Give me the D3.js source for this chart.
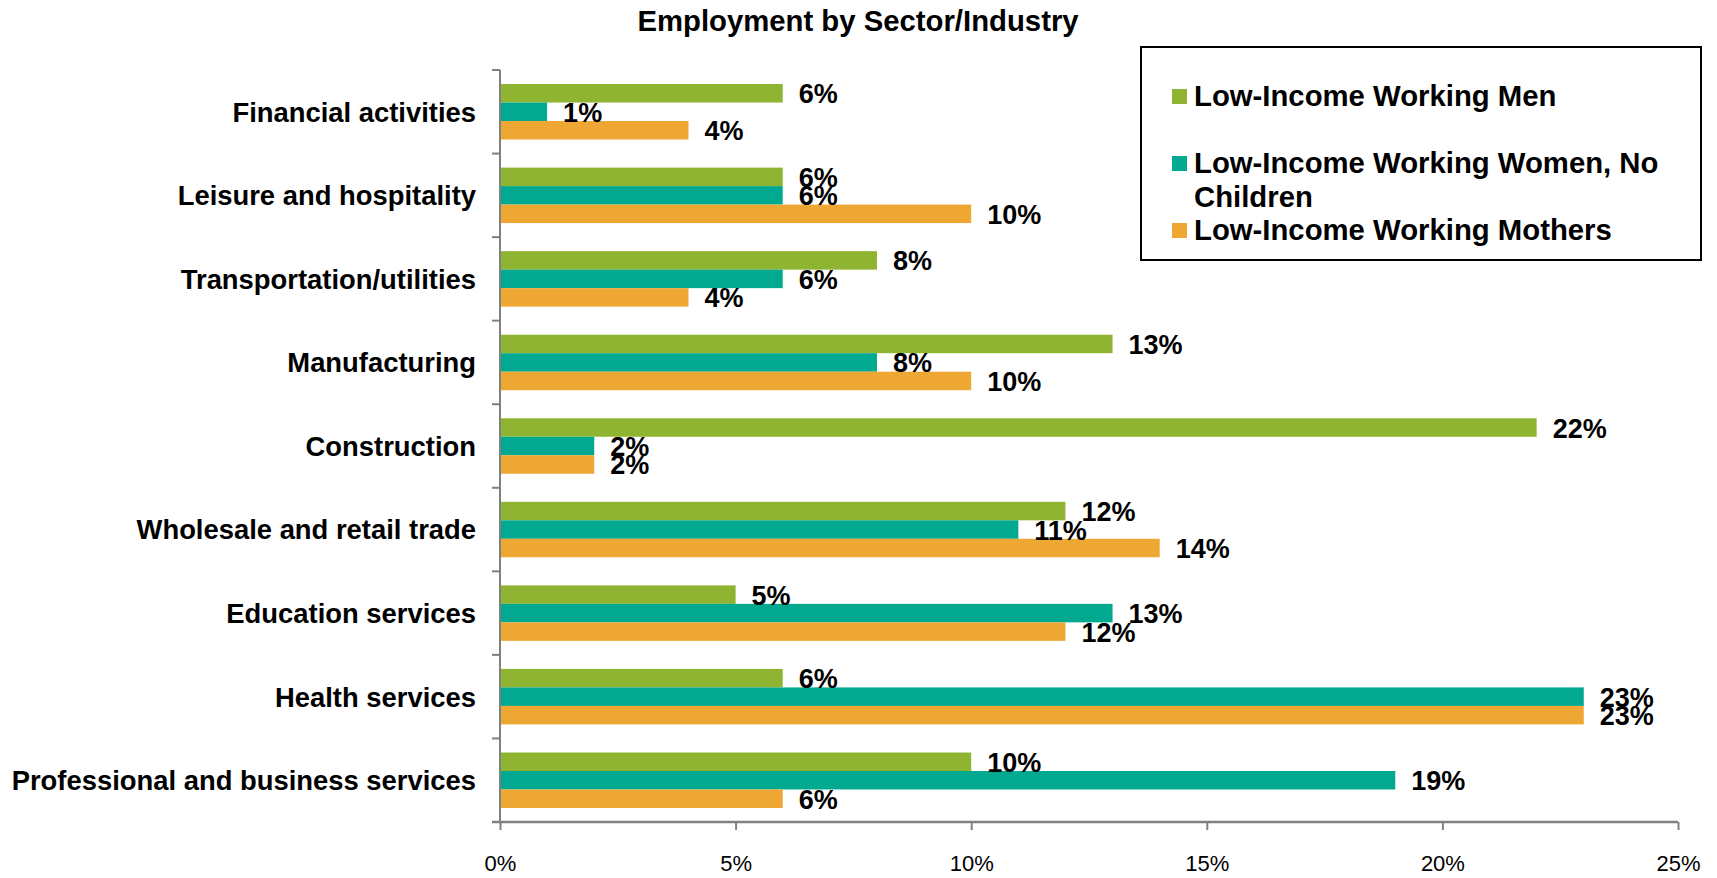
<!DOCTYPE html>
<html>
<head>
<meta charset="utf-8">
<script src="https://cdn.jsdelivr.net/npm/d3@7"></script>
<style>
  html, body { margin: 0; padding: 0; background: #fff; }
  svg { display: block; font-family: "Liberation Sans", Arial, Helvetica, sans-serif; }
</style>
</head>
<body>
<svg id="chart" width="1717" height="878"></svg>
<script>
// Sectors, top to bottom
const categories = [
  "Financial activities",
  "Leisure and hospitality",
  "Transportation/utilities",
  "Manufacturing",
  "Construction",
  "Wholesale and retail trade",
  "Education services",
  "Health services",
  "Professional and business services"
];

const seriesNames = [
  "Low-Income Working Men",
  "Low-Income Working Women, No Children",
  "Low-Income Working Mothers"
];

// Share of each group employed in the sector (%)
const men     = [6, 6, 8, 13, 22, 12, 5, 6, 10];
const women   = [1, 6, 6, 8, 2, 11, 13, 23, 19];
const mothers = [4, 10, 4, 10, 2, 14, 12, 23, 6];

const xTicks = [0, 5, 10, 15, 20, 25];
const seriesColors = ["#8fb431", "#00a98f", "#eea733"];

const seriesValues = [men, women, mothers];
const rows = categories.map((c, i) => ({
  category: c,
  values: seriesNames.map((s, k) => ({ series: s, value: seriesValues[k][i], k }))
}));

const svg = d3.select("#chart");
const plot = { left: 500, right: 1678, top: 70, bottom: 822 };

const x = d3.scaleLinear().domain([0, 25]).range([plot.left, plot.right]);
const y0 = d3.scaleBand().domain(categories).range([plot.top, plot.bottom]).padding(0);
const y1 = d3.scaleBand().domain(seriesNames).range([0, y0.bandwidth()])
  .paddingInner(0).paddingOuter(0.76);
const color = d3.scaleOrdinal().domain(seriesNames).range(seriesColors);

// Title
svg.append("text")
  .attr("x", 858).attr("y", 31)
  .attr("text-anchor", "middle")
  .attr("font-size", 29.3).attr("font-weight", "bold")
  .text("Employment by Sector/Industry");

// Bars
const groups = svg.append("g").selectAll("g")
  .data(rows).join("g")
  .attr("transform", d => `translate(0,${y0(d.category)})`);

groups.selectAll("rect")
  .data(d => d.values).join("rect")
  .attr("x", x(0))
  .attr("y", d => y1(d.series))
  .attr("width", d => x(d.value) - x(0))
  .attr("height", y1.bandwidth())
  .attr("fill", d => color(d.series));

// Value labels
groups.selectAll("text.val")
  .data(d => d.values).join("text")
  .attr("class", "val")
  .attr("x", d => x(d.value) + 16)
  .attr("y", d => y1(d.series) + y1.bandwidth() / 2 + 1)
  .attr("dominant-baseline", "central")
  .attr("font-size", 27).attr("font-weight", "bold")
  .text(d => d.value + "%");

// Category axis (ticks between sectors)
const axisColor = "#808080";
const boundaries = categories.map(c => y0(c)).concat([plot.bottom]);
svg.append("g").selectAll("line")
  .data(boundaries).join("line")
  .attr("x1", plot.left - 8).attr("x2", plot.left)
  .attr("y1", d => d).attr("y2", d => d)
  .attr("stroke", axisColor).attr("stroke-width", 2);
svg.append("line")
  .attr("x1", plot.left).attr("x2", plot.left)
  .attr("y1", plot.top).attr("y2", plot.bottom)
  .attr("stroke", axisColor).attr("stroke-width", 2);

svg.append("g").selectAll("text")
  .data(categories).join("text")
  .attr("x", plot.left - 24)
  .attr("y", d => y0(d) + y0.bandwidth() / 2)
  .attr("dy", "0.36em")
  .attr("text-anchor", "end")
  .attr("font-size", 27.4).attr("font-weight", "bold")
  .text(d => d);

// Value axis
const xAxis = d3.axisBottom(x)
  .tickValues(xTicks)
  .tickFormat(d => d + "%")
  .tickSize(8)
  .tickPadding(25);
const gx = svg.append("g")
  .attr("transform", `translate(0,${plot.bottom})`)
  .call(xAxis);
gx.select(".domain").remove();
gx.selectAll(".tick line").attr("stroke", axisColor).attr("stroke-width", 2);
gx.selectAll(".tick text")
  .attr("font-size", 22)
  .attr("font-family", "'Liberation Sans', Arial, sans-serif")
  .attr("fill", "#000");
gx.append("line")
  .attr("x1", plot.left - 8).attr("x2", plot.right)
  .attr("y1", 0).attr("y2", 0)
  .attr("stroke", axisColor).attr("stroke-width", 2.5);

// Legend
const legend = svg.append("g");
legend.append("rect")
  .attr("x", 1141).attr("y", 47)
  .attr("width", 560).attr("height", 213)
  .attr("fill", "#fff").attr("stroke", "#000").attr("stroke-width", 2);

const legendItems = [
  { name: seriesNames[0], lines: ["Low-Income Working Men"], y: 96 },
  { name: seriesNames[1], lines: ["Low-Income Working Women, No", "Children"], y: 163 },
  { name: seriesNames[2], lines: ["Low-Income Working Mothers"], y: 230 }
];
const li = legend.selectAll("g.item").data(legendItems).join("g").attr("class", "item");
li.append("rect")
  .attr("x", 1172).attr("y", d => d.y - 7)
  .attr("width", 15).attr("height", 15)
  .attr("fill", d => color(d.name));
li.append("text")
  .attr("font-size", 29.3).attr("font-weight", "bold")
  .selectAll("tspan").data(d => d.lines.map((t, i) => ({ t, i, y: d.y }))).join("tspan")
  .attr("x", 1194)
  .attr("y", d => d.y + 10 + d.i * 34)
  .text(d => d.t);
</script>
</body>
</html>
